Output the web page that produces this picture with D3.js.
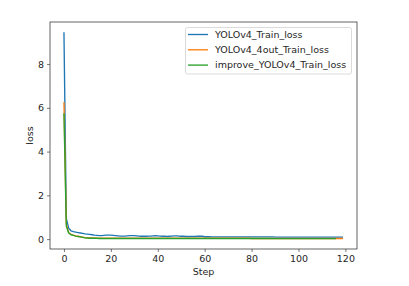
<!DOCTYPE html>
<html>
<head>
<meta charset="utf-8">
<script src="https://d3js.org/d3.v7.min.js"></script>
<style>
body{margin:0;background:#fff;}
svg text{font-family:"DejaVu Sans",sans-serif;fill:#262626;}
</style>
</head>
<body>
<svg id="chart" width="409" height="286"></svg>
<script>
// series values (step = index)
const yolov4Loss = [
9.45,0.95,0.50,0.38,0.34,0.32,0.30,0.28,0.26,0.24,
0.23,0.22,0.20,0.18,0.17,0.16,0.16,0.17,0.18,0.18,
0.18,0.17,0.16,0.15,0.14,0.14,0.14,0.15,0.16,0.16,
0.16,0.15,0.14,0.13,0.13,0.13,0.14,0.14,0.15,0.16,
0.15,0.14,0.13,0.13,0.12,0.13,0.14,0.15,0.15,0.14,
0.13,0.13,0.12,0.12,0.12,0.12,0.12,0.13,0.14,0.13,
0.11,0.11,0.11,0.10,0.10,0.10,0.10,0.10,0.10,0.10,
0.10,0.10,0.10,0.10,0.10,0.10,0.10,0.10,0.10,0.10,
0.10,0.10,0.10,0.10,0.10,0.10,0.10,0.10,0.10,0.10,
0.09,0.09,0.09,0.09,0.09,0.09,0.09,0.09,0.09,0.09,
0.09,0.09,0.09,0.09,0.09,0.09,0.09,0.09,0.09,0.09,
0.09,0.09,0.09,0.09,0.09,0.09,0.09,0.09,0.09,0.09
];
const yolov4_4outLoss = [
6.25,0.70,0.30,0.22,0.18,0.15,0.13,0.11,0.09,0.07,
0.06,0.05,0.05,0.05,0.04,0.04,0.04,0.04,0.04,0.04,
0.04,0.04,0.04,0.04,0.04,0.04,0.04,0.04,0.04,0.04,
0.04,0.04,0.04,0.04,0.04,0.04,0.04,0.04,0.04,0.04,
0.04,0.04,0.04,0.04,0.04,0.04,0.04,0.04,0.04,0.04,
0.04,0.04,0.04,0.04,0.04,0.04,0.04,0.04,0.04,0.04,
0.04,0.04,0.04,0.04,0.04,0.04,0.04,0.04,0.04,0.04,
0.04,0.04,0.04,0.04,0.04,0.04,0.04,0.04,0.04,0.04,
0.03,0.03,0.03,0.03,0.03,0.03,0.03,0.03,0.03,0.03,
0.03,0.03,0.03,0.03,0.03,0.03,0.03,0.03,0.03,0.03,
0.03,0.03,0.03,0.03,0.03,0.03,0.03,0.03,0.03,0.03,
0.03,0.03,0.03,0.03,0.03,0.03,0.03,0.03,0.03,0.03
];
const improveLoss = [
5.75,0.60,0.28,0.20,0.17,0.14,0.12,0.10,0.08,0.06,
0.05,0.04,0.04,0.04,0.04,0.03,0.03,0.03,0.03,0.03,
0.03,0.03,0.03,0.03,0.03,0.03,0.03,0.03,0.03,0.03,
0.03,0.03,0.03,0.03,0.03,0.03,0.03,0.03,0.03,0.03,
0.03,0.03,0.03,0.03,0.03,0.03,0.03,0.03,0.03,0.03,
0.03,0.03,0.03,0.03,0.03,0.03,0.03,0.03,0.03,0.03,
0.03,0.03,0.03,0.03,0.03,0.03,0.03,0.03,0.03,0.03,
0.03,0.03,0.03,0.03,0.03,0.03,0.03,0.03,0.03,0.03,
0.03,0.03,0.03,0.03,0.03,0.03,0.03,0.03,0.03,0.03,
0.02,0.02,0.02,0.02,0.02,0.02,0.02,0.02,0.02,0.02,
0.02,0.02,0.02,0.02,0.02,0.02,0.02,0.02,0.02,0.02,
0.02,0.02,0.02,0.02,0.02,0.02,0.02
];
const seriesNames = ["YOLOv4_Train_loss","YOLOv4_4out_Train_loss","improve_YOLOv4_Train_loss"];
const seriesColors = ["#1f77b4","#ff7f0e","#2ca02c"];
const xTicks = [0,20,40,60,80,100,120];
const yTicks = [0,2,4,6,8];

const svg = d3.select("#chart");
const mLeft = 50, mRight = 357, mTop = 22, mBottom = 249;
const fs = "9.5px";

const allSeries = [yolov4Loss, yolov4_4outLoss, improveLoss];
const xMax = d3.max(allSeries, s => s.length - 1);
const yMin = d3.min(allSeries, s => d3.min(s)), yMax = d3.max(allSeries, s => d3.max(s));
// matplotlib style 5% margins
const xPad = xMax * 0.05, yPad = (yMax - yMin) * 0.05;
const x = d3.scaleLinear().domain([-xPad, xMax + xPad]).range([mLeft, mRight]);
const y = d3.scaleLinear().domain([yMin - yPad, yMax + yPad]).range([mBottom, mTop]);

const line = d3.line().x((d, i) => x(i)).y(d => y(d));

svg.append("g").selectAll("path")
  .data(allSeries)
  .join("path")
  .attr("d", line)
  .attr("fill", "none")
  .attr("stroke", (d, i) => seriesColors[i])
  .attr("stroke-width", 1.35)
  .attr("stroke-linejoin", "round");

// axes
const xAxis = svg.append("g").attr("transform", "translate(0," + mBottom + ")")
  .call(d3.axisBottom(x).tickValues(xTicks).tickSize(3).tickPadding(3));
const yAxis = svg.append("g").attr("transform", "translate(" + mLeft + ",0)")
  .call(d3.axisLeft(y).tickValues(yTicks).tickSize(3).tickPadding(3));
[xAxis, yAxis].forEach(g => {
  g.select(".domain").remove();
  g.selectAll("line").attr("stroke", "#222").attr("stroke-width", 0.6);
  g.selectAll("text").style("font-size", fs).attr("fill", "#262626");
});

svg.append("rect")
  .attr("x", mLeft).attr("y", mTop)
  .attr("width", mRight - mLeft).attr("height", mBottom - mTop)
  .attr("fill", "none").attr("stroke", "#222").attr("stroke-width", 0.7);

svg.append("text").attr("x", (mLeft + mRight) / 2).attr("y", 275)
  .attr("text-anchor", "middle").style("font-size", fs).text("Step");
svg.append("text").attr("transform", "translate(33," + ((mTop + mBottom) / 2) + ") rotate(-90)")
  .attr("text-anchor", "middle").style("font-size", fs).text("loss");

// legend
const leg = svg.append("g");
leg.append("rect").attr("x", 185.5).attr("y", 27.5).attr("width", 166).attr("height", 46.5)
  .attr("rx", 2).attr("fill", "#fff").attr("fill-opacity", 0.8)
  .attr("stroke", "#ccc").attr("stroke-width", 0.7);
seriesNames.forEach((name, i) => {
  const yy = 34.5 + i * 15.3;
  leg.append("line").attr("x1", 188).attr("x2", 208).attr("y1", yy).attr("y2", yy)
    .attr("stroke", seriesColors[i]).attr("stroke-width", 1.35);
  leg.append("text").attr("x", 215).attr("y", yy).attr("dy", "0.35em")
    .style("font-size", fs).text(name);
});
</script>
</body>
</html>
